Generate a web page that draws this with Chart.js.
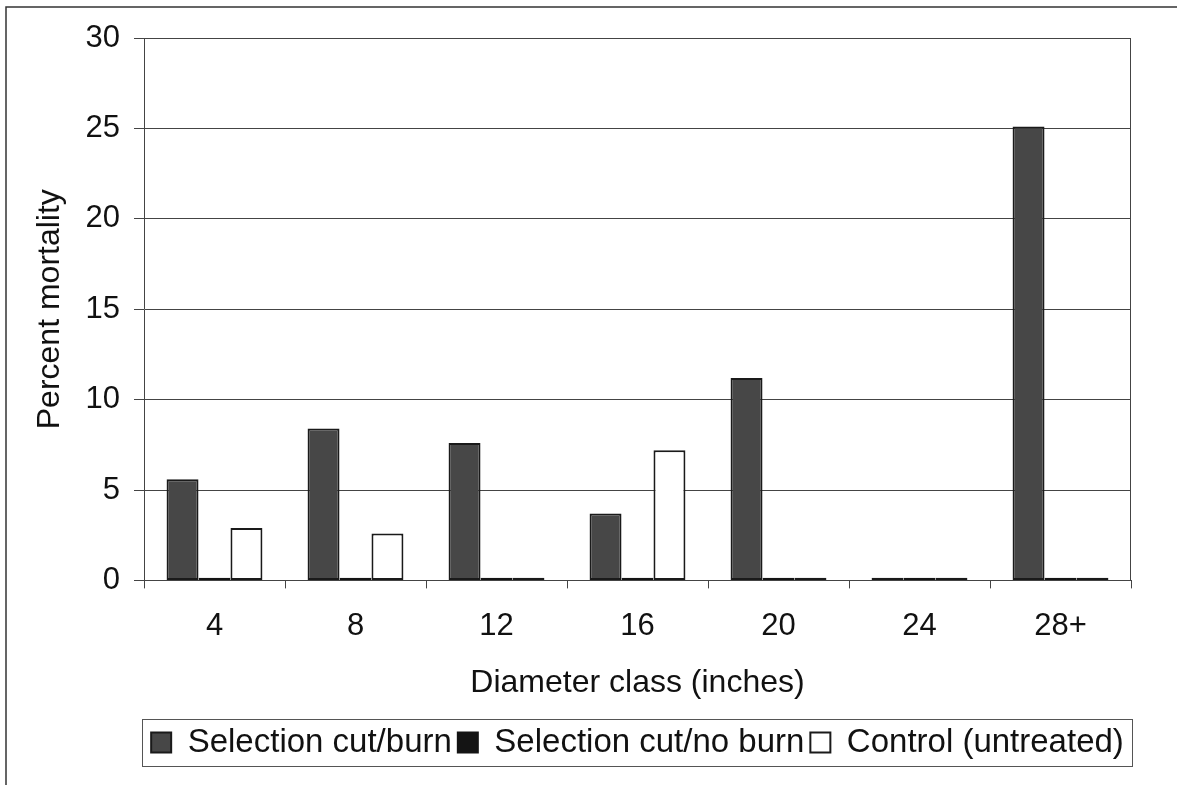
<!DOCTYPE html>
<html>
<head>
<meta charset="utf-8">
<script src="https://cdn.jsdelivr.net/npm/chart.js@4/dist/chart.umd.min.js"></script>
<style>
  html, body { margin: 0; padding: 0; background: #fff; }
  #wrap { width: 1177px; height: 785px; position: relative; }
</style>
</head>
<body>
<div id="wrap"><canvas id="mortalityChart"></canvas></div>
<script>
'use strict';

// diameter classes (inches) and percent mortality per treatment
const diameterClasses = ['4', '8', '12', '16', '20', '24', '28+'];
const cutBurn = [5.6, 8.4, 7.6, 3.7, 11.2, 0.15, 25.1];
const cutNoBurn = [0.15, 0.15, 0.15, 0.15, 0.15, 0.15, 0.15];
const control = [2.9, 2.6, 0.15, 7.2, 0.15, 0.15, 0.15];
const yTicks = [0, 5, 10, 15, 20, 25, 30];

const fontFamily = '"Liberation Sans", Arial, Helvetica, sans-serif';

//page frame lines, plot box and a border round the legend
const framePlugin = {
  id: 'frames',
  beforeDraw(chart){
    let ctx = chart.ctx;
    ctx.save();
    ctx.strokeStyle = '#333';
    ctx.lineWidth = 1.5;
    ctx.beginPath();
    ctx.moveTo(6, 785);
    ctx.lineTo(6, 7);
    ctx.lineTo(1177, 7);
    ctx.stroke();
    ctx.restore();
  },
  afterDraw(chart){
    let ctx = chart.ctx;
    let area = chart.chartArea;
    ctx.save();
    ctx.strokeStyle = '#444';
    ctx.lineWidth = 1;
    ctx.beginPath();
    ctx.moveTo(area.left, area.top + 0.5);
    ctx.lineTo(area.right - 0.5, area.top + 0.5);
    ctx.lineTo(area.right - 0.5, area.bottom);
    ctx.stroke();

    let boxes = chart.legend.legendHitBoxes;
    if (boxes && boxes.length){
      let left = Math.min(...boxes.map(b => b.left)) - 9;
      let right = Math.max(...boxes.map(b => b.left + b.width)) + 8;
      let top = Math.min(...boxes.map(b => b.top)) - 7;
      let bottom = Math.max(...boxes.map(b => b.top + b.height)) + 7;
      ctx.strokeStyle = '#555';
      ctx.strokeRect(Math.round(left) + 0.5, Math.round(top) + 0.5, Math.round(right - left), Math.round(bottom - top));
    }
    ctx.restore();
  }
};

const data = {
  labels: diameterClasses,
  datasets: [
    {
      label: 'Selection cut/burn',
      data: cutBurn,
      backgroundColor: '#474747',
      borderColor: '#1a1a1a',
      borderWidth: 2,
      borderSkipped: false
    },
    {
      label: 'Selection cut/no burn',
      data: cutNoBurn,
      backgroundColor: '#141414',
      borderColor: '#141414',
      borderWidth: 2,
      borderSkipped: false
    },
    {
      label: 'Control (untreated)',
      data: control,
      backgroundColor: '#ffffff',
      borderColor: '#1a1a1a',
      borderWidth: 2,
      borderSkipped: false
    }
  ]
};

const config = {
  type: 'bar',
  data: data,
  options: {
    responsive: true,
    maintainAspectRatio: false,
    animation: false,
    layout: { padding: { left: 31, right: 46, top: 38, bottom: 16 } },
    datasets: { bar: { categoryPercentage: 0.68, barPercentage: 1 } },
    plugins: {
      tooltip: { enabled: false },
      legend: {
        position: 'bottom',
        fullSize: false,
        labels: {
          color: '#111',
          font: { family: fontFamily, size: 33 },
          boxWidth: 20,
          boxHeight: 20,
          padding: 6
        }
      }
    },
    scales: {
      x: {
        grid: { display: true, drawOnChartArea: false, offset: true, tickLength: 8, color: '#444' },
        border: { color: '#444', width: 1 },
        ticks: { color: '#111', font: { family: fontFamily, size: 31 }, padding: 19 },
        title: {
          display: true,
          text: 'Diameter class (inches)',
          color: '#111',
          font: { family: fontFamily, size: 32 },
          padding: { top: 0, bottom: 18 }
        }
      },
      y: {
        min: 0,
        max: 30,
        afterBuildTicks(scale){
          scale.ticks = yTicks.map(v => ({ value: v }));
        },
        afterFit(scale){
          scale.width = 113;
        },
        grid: { color: '#444', tickLength: 10 },
        border: { color: '#444', width: 1 },
        ticks: { color: '#111', font: { family: fontFamily, size: 31 }, padding: 14 },
        title: {
          display: true,
          text: 'Percent mortality',
          color: '#111',
          font: { family: fontFamily, size: 32 },
          padding: 0
        }
      }
    }
  },
  plugins: [framePlugin]
};

const mortalityChart = new Chart(document.getElementById('mortalityChart'), config);
</script>
</body>
</html>
